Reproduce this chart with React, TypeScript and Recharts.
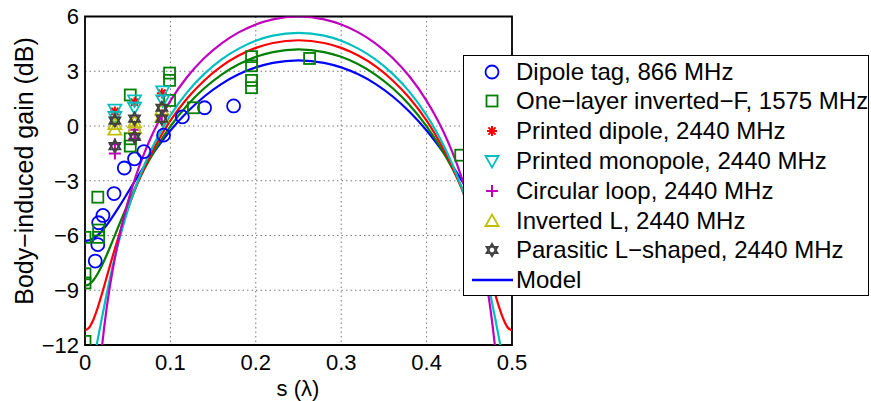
import React from "react";
import {
  ComposedChart,
  Line,
  Scatter,
  XAxis,
  YAxis,
  CartesianGrid,
  ReferenceArea,
} from "recharts";

// model curves, sampled along s (in wavelengths)
const sGrid = [
  0, 0.005, 0.01, 0.015, 0.02, 0.025, 0.03, 0.04, 0.05, 0.06, 0.07, 0.08, 0.09, 0.1, 0.12, 0.14, 0.16, 0.18, 0.2, 0.22, 0.25,
  0.28, 0.3, 0.32, 0.34, 0.36, 0.38, 0.4, 0.41, 0.42, 0.43, 0.44, 0.45, 0.46, 0.47, 0.475, 0.48, 0.485, 0.49, 0.495, 0.5,
];
const modelBlue = [
  -6.3, -6.26, -6.15, -5.98, -5.74, -5.46, -5.13, -4.42, -3.66, -2.9, -2.17, -1.48, -0.84, -0.25, 0.78, 1.63, 2.31, 2.83, 3.21, 3.46, 3.6,
  3.46, 3.21, 2.83, 2.31, 1.63, 0.78, -0.25, -0.84, -1.48, -2.17, -2.9, -3.66, -4.42, -5.13, -5.46, -5.74, -5.98, -6.15, -6.26, -6.3,
];
const modelGreen = [
  -8.75, -8.67, -8.44, -8.08, -7.63, -7.11, -6.56, -5.41, -4.3, -3.26, -2.32, -1.47, -0.71, -0.02, 1.15, 2.08, 2.82, 3.38, 3.79, 4.05, 4.2,
  4.05, 3.79, 3.38, 2.82, 2.08, 1.15, -0.02, -0.71, -1.47, -2.32, -3.26, -4.3, -5.41, -6.56, -7.11, -7.63, -8.08, -8.44, -8.67, -8.75,
];
const modelRed = [
  -11.2, -11.04, -10.59, -9.94, -9.17, -8.35, -7.52, -5.96, -4.55, -3.32, -2.24, -1.29, -0.45, 0.29, 1.53, 2.51, 3.28, 3.86, 4.28, 4.55, 4.7,
  4.55, 4.28, 3.86, 3.28, 2.51, 1.53, 0.29, -0.45, -1.29, -2.24, -3.32, -4.55, -5.96, -7.52, -8.35, -9.17, -9.94, -10.59, -11.04, -11.2,
];
const modelCyan = [
  -14.0, -13.69, -12.82, -11.68, -10.47, -9.29, -8.19, -6.25, -4.62, -3.25, -2.08, -1.07, -0.19, 0.58, 1.87, 2.87, 3.65, 4.24, 4.67, 4.95, 5.1,
  4.95, 4.67, 4.24, 3.65, 2.87, 1.87, 0.58, -0.19, -1.07, -2.08, -3.25, -4.62, -6.25, -8.19, -9.29, -10.47, -11.68, -12.82, -13.69, -14.0,
];
const modelMagenta = [
  -30, -24.1, -18.05, -14.53, -12.04, -10.11, -8.55, -6.09, -4.2, -2.68, -1.42, -0.34, 0.58, 1.38, 2.71, 3.74, 4.53, 5.13, 5.56, 5.84, 6.0,
  5.84, 5.56, 5.13, 4.53, 3.74, 2.71, 1.38, 0.58, -0.34, -1.42, -2.68, -4.2, -6.09, -8.55, -10.11, -12.04, -14.53, -18.05, -24.1, -30,
];

// measurements
const dipoleS = [0.012, 0.015, 0.016, 0.021, 0.034, 0.046, 0.058, 0.069, 0.092, 0.114, 0.14, 0.174];
const dipoleG = [-7.4, -6.5, -5.3, -4.9, -3.7, -2.3, -1.8, -1.4, -0.5, 0.5, 1.0, 1.1];

const invFS = [0, 0, 0, 0, 0.015, 0.016, 0.016, 0.053, 0.053, 0.053, 0.099, 0.099, 0.099, 0.127, 0.195, 0.195, 0.195, 0.195, 0.263, 0.44];
const invFG = [-6.1, -8.1, -8.6, -11.8, -3.9, -5.7, -6.1, 1.7, -0.7, -1.1, 2.9, 2.5, 1.4, 1.0, 3.8, 3.3, 2.5, 2.1, 3.7, -1.6];

const printedDipoleS = [0.035, 0.058, 0.09];
const printedDipoleG = [0.8, 1.3, 1.8];

const monopoleS = [0.035, 0.035, 0.058, 0.058, 0.091, 0.091];
const monopoleG = [0.9, 0.5, 1.4, 1.0, 1.9, 1.4];

const loopS = [0.035, 0.035, 0.058, 0.058, 0.09];
const loopG = [-1.0, -1.5, -0.2, -0.7, 0.6];

const invLS = [0.035, 0.035, 0.058, 0.058, 0.09, 0.09];
const invLG = [0.1, -0.2, 0.2, -0.1, 0.5, 0.9];

const parasiticS = [0.035, 0.035, 0.058, 0.058, 0.09, 0.09];
const parasiticG = [0.3, -1.1, 0.4, -0.6, 1.0, 0.4];

const xTicks = [0, 0.1, 0.2, 0.3, 0.4, 0.5];
const yTicks = [-12, -9, -6, -3, 0, 3, 6];

const legendLabels = [
  "Dipole tag, 866 MHz",
  "One\u2212layer inverted\u2212F, 1575 MHz",
  "Printed dipole, 2440 MHz",
  "Printed monopole, 2440 MHz",
  "Circular loop, 2440 MHz",
  "Inverted L, 2440 MHz",
  "Parasitic L\u2212shaped, 2440 MHz",
  "Model",
];

const zip = (xs: number[], ys: number[]) => xs.map((s, i) => ({ s, g: ys[i] }));

const FONT = '"Liberation Sans", Arial, Helvetica, sans-serif';

type MP = { cx?: number; cy?: number };

const circleShape = (color: string) => ({ cx = 0, cy = 0 }: MP) => (
  <circle cx={cx} cy={cy} r={6.5} fill="none" stroke={color} strokeWidth={1.8} />
);
const squareShape = (color: string) => ({ cx = 0, cy = 0 }: MP) => (
  <rect x={cx - 5.5} y={cy - 5.5} width={11} height={11} fill="none" stroke={color} strokeWidth={1.8} />
);
const starShape = (color: string) => ({ cx = 0, cy = 0 }: MP) => (
  <g stroke={color} strokeWidth={2}>
    <line x1={cx - 5} y1={cy} x2={cx + 5} y2={cy} />
    <line x1={cx} y1={cy - 5} x2={cx} y2={cy + 5} />
    <line x1={cx - 3.6} y1={cy - 3.6} x2={cx + 3.6} y2={cy + 3.6} />
    <line x1={cx - 3.6} y1={cy + 3.6} x2={cx + 3.6} y2={cy - 3.6} />
  </g>
);
const triDownShape = (color: string) => ({ cx = 0, cy = 0 }: MP) => (
  <polygon
    points={`${cx - 6.5},${cy - 5} ${cx + 6.5},${cy - 5} ${cx},${cy + 6.5}`}
    fill="none"
    stroke={color}
    strokeWidth={1.8}
  />
);
const triUpShape = (color: string) => ({ cx = 0, cy = 0 }: MP) => (
  <polygon
    points={`${cx - 6.5},${cy + 5} ${cx + 6.5},${cy + 5} ${cx},${cy - 6.5}`}
    fill="none"
    stroke={color}
    strokeWidth={1.8}
  />
);
const plusShape = (color: string) => ({ cx = 0, cy = 0 }: MP) => (
  <g stroke={color} strokeWidth={2}>
    <line x1={cx - 6} y1={cy} x2={cx + 6} y2={cy} />
    <line x1={cx} y1={cy - 6} x2={cx} y2={cy + 6} />
  </g>
);
const hexShape = (color: string) => ({ cx = 0, cy = 0 }: MP) => (
  <g fill="none" stroke={color} strokeWidth={1.8}>
    <polygon points={`${cx - 5.5},${cy + 3.2} ${cx + 5.5},${cy + 3.2} ${cx},${cy - 6.3}`} />
    <polygon points={`${cx - 5.5},${cy - 3.2} ${cx + 5.5},${cy - 3.2} ${cx},${cy + 6.3}`} />
  </g>
);

const C = {
  blue: "#0000ff",
  green: "#008000",
  red: "#ff0000",
  cyan: "#00bfbf",
  magenta: "#bf00bf",
  yellow: "#bfbf00",
  gray: "#404040",
};

const markerSeries = [
  { key: "dipole", data: zip(dipoleS, dipoleG), shape: circleShape(C.blue) },
  { key: "invF", data: zip(invFS, invFG), shape: squareShape(C.green) },
  { key: "pdip", data: zip(printedDipoleS, printedDipoleG), shape: starShape(C.red) },
  { key: "mono", data: zip(monopoleS, monopoleG), shape: triDownShape(C.cyan) },
  { key: "loop", data: zip(loopS, loopG), shape: plusShape(C.magenta) },
  { key: "invL", data: zip(invLS, invLG), shape: triUpShape(C.yellow) },
  { key: "para", data: zip(parasiticS, parasiticG), shape: hexShape(C.gray) },
];

const modelSeries = [
  { key: "mb", data: zip(sGrid, modelBlue), color: C.blue },
  { key: "mg", data: zip(sGrid, modelGreen), color: C.green },
  { key: "mr", data: zip(sGrid, modelRed), color: C.red },
  { key: "mc", data: zip(sGrid, modelCyan), color: C.cyan },
  { key: "mm", data: zip(sGrid, modelMagenta), color: C.magenta },
];

const legendIcons = [
  circleShape(C.blue),
  squareShape(C.green),
  starShape(C.red),
  triDownShape(C.cyan),
  plusShape(C.magenta),
  triUpShape(C.yellow),
  hexShape(C.gray),
];

const fmtY = (v: number) => (v < 0 ? "\u2212" + Math.abs(v) : String(v));

export default function App() {
  return (
    <div style={{ position: "absolute", left: 0, top: 0, width: 871, height: 401, background: "#fff", fontFamily: FONT }}>
      <ComposedChart width={871} height={401} margin={{ top: 16.5, right: 359, bottom: 0, left: 0 }}>
        <CartesianGrid stroke="#777" strokeDasharray="1.5 3" strokeWidth={1} />
        <XAxis
          type="number"
          dataKey="s"
          domain={[0, 0.5]}
          ticks={xTicks}
          allowDataOverflow
          height={56}
          axisLine={false}
          tickLine={false}
          tickSize={0}
          tickMargin={9}
          tick={{ fontSize: 22, fill: "#000", fontFamily: FONT }}
          label={{
            content: () => (
              <text x={298} y={396} textAnchor="middle" fontSize={22} fontFamily={FONT} fill="#000">
                s (λ)
              </text>
            ),
          }}
        />
        <YAxis
          type="number"
          domain={[-12, 6]}
          ticks={yTicks}
          allowDataOverflow
          width={85}
          axisLine={false}
          tickLine={false}
          tickSize={0}
          tickMargin={6}
          tickFormatter={fmtY}
          tick={{ fontSize: 22, fill: "#000", fontFamily: FONT }}
          label={{
            content: () => (
              <text
                x={24}
                y={171}
                transform="rotate(-90 24 171)"
                textAnchor="middle"
                dominantBaseline="central"
                fontSize={25}
                fontFamily={FONT}
                fill="#000"
              >
                Body−induced gain (dB)
              </text>
            ),
          }}
        />
        {modelSeries.map((m) => (
          <Line
            key={m.key}
            data={m.data}
            dataKey="g"
            type="monotone"
            stroke={m.color}
            strokeWidth={2.2}
            dot={false}
            activeDot={false}
            isAnimationActive={false}
          />
        ))}
        {markerSeries.map((m) => (
          <Scatter key={m.key} data={m.data} dataKey="g" shape={m.shape as any} isAnimationActive={false} />
        ))}
        <ReferenceArea x1={0} x2={0.5} y1={-12} y2={6} fill="none" stroke="#000" strokeWidth={1.8} />
      </ComposedChart>
      <div
        style={{
          position: "absolute",
          left: 463,
          top: 55,
          width: 406,
          height: 241,
          boxSizing: "border-box",
          border: "1.8px solid #000",
          background: "#fff",
          overflow: "visible",
        }}
      >
        {legendLabels.map((lab, i) => (
          <div
            key={lab}
            style={{
              position: "absolute",
              left: 0,
              top: 0.5 + i * 29.8,
              height: 30,
              display: "flex",
              alignItems: "center",
              whiteSpace: "nowrap",
              fontSize: 24,
              color: "#000",
            }}
          >
            <svg width={52} height={30} style={{ flex: "none" }}>
              {i < legendIcons.length ? (
                legendIcons[i]({ cx: 28, cy: 15 })
              ) : (
                <line x1={8} y1={15} x2={49} y2={15} stroke={C.blue} strokeWidth={2.4} />
              )}
            </svg>
            <span>{lab}</span>
          </div>
        ))}
      </div>
    </div>
  );
}
